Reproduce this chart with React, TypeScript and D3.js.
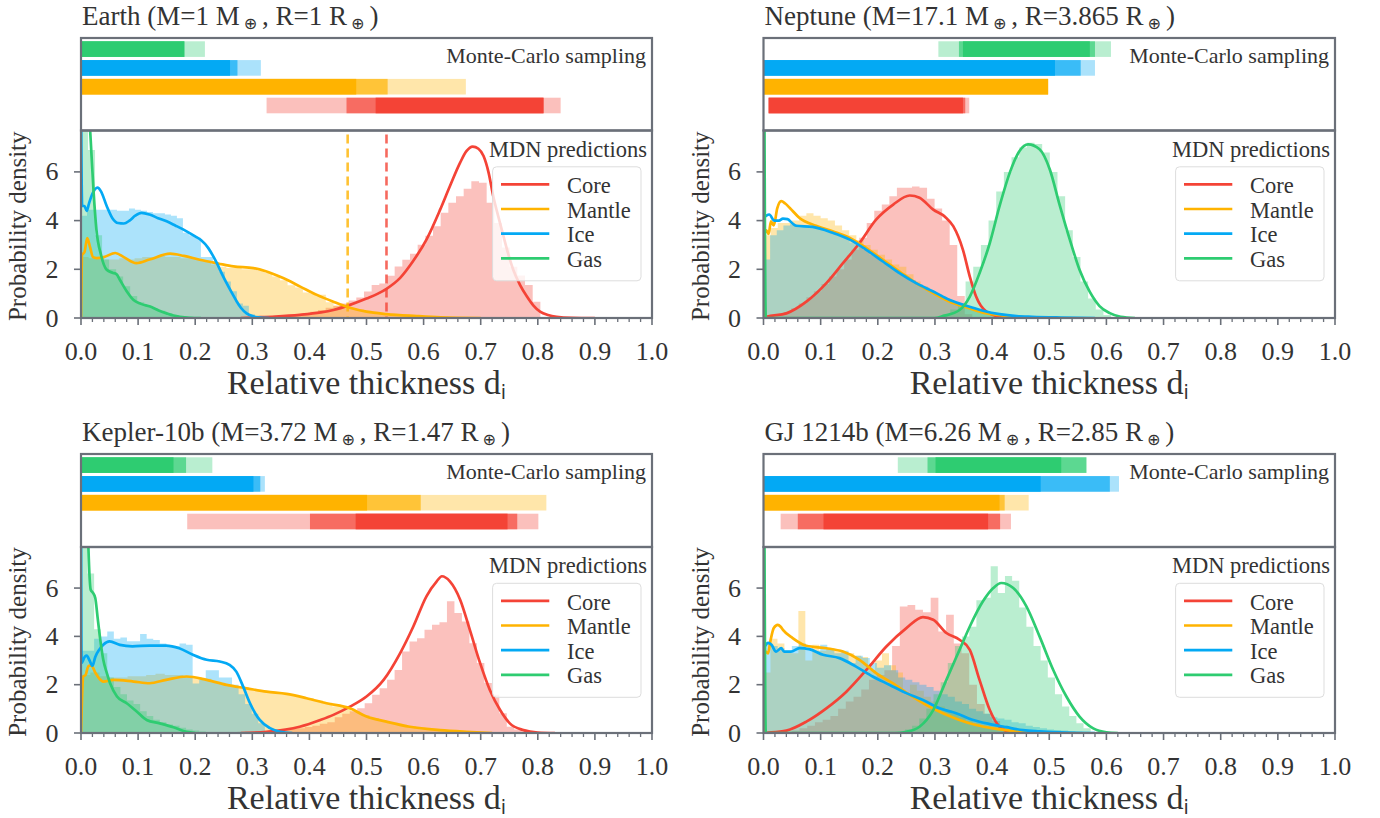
import * as d3 from 'd3'

const COMPONENTS = ['Core', 'Mantle', 'Ice', 'Gas']
const COLORS = ['#f44336', '#ffb300', '#03a9f4', '#2ecc71']
const X_TICKS = [0, 0.1, 0.2, 0.3, 0.4, 0.5, 0.6, 0.7, 0.8, 0.9, 1.0]
const Y_TICKS = [0, 2, 4, 6]
const Y_MAX = 7.7

const planetNames = ['Earth', 'Neptune', 'Kepler-10b', 'GJ 1214b']
const planetMass = ['1', '17.1', '3.72', '6.26']
const planetRadius = ['1', '3.865', '1.47', '2.85']

type Hist = { start: number; width: number; heights: number[] }
type Pt = [number, number]

// Monte-Carlo ranges per component: [lightLo, lightHi, midLo, midHi, darkLo, darkHi]
const earthBars = [
  [0.325, 0.84, 0.465, 0.81, 0.516, 0.81],
  [0, 0.674, 0, 0.537, 0, 0.482],
  [0, 0.315, 0, 0.274, 0, 0.261],
  [0, 0.217, 0, 0.181, 0, 0.181],
]
const neptuneBars = [
  [0.009, 0.36, 0.009, 0.353, 0.009, 0.349],
  [0, 0.498, 0, 0.498, 0, 0.498],
  [0, 0.58, 0, 0.555, 0, 0.51],
  [0.306, 0.608, 0.342, 0.58, 0.349, 0.571],
]
const keplerBars = [
  [0.186, 0.801, 0.401, 0.764, 0.481, 0.747],
  [0, 0.815, 0, 0.595, 0, 0.501],
  [0, 0.322, 0, 0.314, 0, 0.302],
  [0, 0.23, 0, 0.184, 0, 0.162],
]
const gjBars = [
  [0.03, 0.433, 0.06, 0.414, 0.105, 0.393],
  [0, 0.464, 0, 0.422, 0, 0.413],
  [0, 0.622, 0, 0.606, 0, 0.485],
  [0.235, 0.565, 0.287, 0.565, 0.301, 0.521],
]

// ---- Earth ----
const earthCoreHist: Hist = { start: 0.321, width: 0.01343, heights: [0.04, 0.06, 0.09, 0.12, 0.16, 0.2, 0.26, 0.33, 0.42, 0.5, 0.6, 0.72, 0.84, 1.09, 1.36, 1.42, 1.73, 2.12, 2.39, 2.64, 3.01, 3.38, 3.77, 4.32, 4.73, 5.0, 5.31, 5.62, 5.55, 4.73, 3.9, 2.9, 2.1, 1.75, 1.36, 0.67] }
const earthMantleHist: Hist = { start: 0, width: 0.0134, heights: [2.5, 2.45, 2.45, 2.4, 2.4, 2.45, 2.4, 2.45, 2.5, 2.5, 2.55, 2.5, 2.5, 2.45, 2.45, 2.4, 2.35, 2.2, 2.1, 2.05, 2.05, 2.0, 2.0, 1.95, 1.85, 1.7, 1.55, 1.35, 1.25, 1.05, 1.0, 0.95, 0.65, 0.5, 0.45, 0.4, 0.35, 0.3, 0.25, 0.2, 0.17, 0.14, 0.11, 0.09, 0.07, 0.05, 0.04, 0.03, 0.02, 0.01] }
const earthIceHist: Hist = { start: 0, width: 0.0105, heights: [4.2, 4.45, 4.45, 4.45, 4.45, 4.45, 4.4, 4.4, 4.5, 4.45, 4.4, 4.35, 4.3, 4.3, 4.25, 4.2, 4.1, 3.5, 3.4, 3.3, 2.5, 2.5, 2.3, 1.9, 1.5, 1.1, 0.6, 0.5, 0.15, 0.05] }
const earthGasHist: Hist = { start: 0, width: 0.0123, heights: [9, 6.9, 3.4, 2.4, 2.0, 1.7, 1.3, 0.9, 0.65, 0.5, 0.4, 0.3, 0.2, 0.12, 0.08, 0.05, 0.03, 0.02] }

const earthCoreCurve: Pt[] = [[0.28, 0], [0.3, 0.02], [0.34, 0.06], [0.383, 0.13], [0.42, 0.23], [0.442, 0.33], [0.471, 0.54], [0.5, 0.8], [0.52, 1.0], [0.535, 1.2], [0.559, 1.65], [0.582, 2.35], [0.605, 3.22], [0.629, 4.45], [0.646, 5.41], [0.664, 6.38], [0.675, 6.85], [0.686, 7.04], [0.696, 6.95], [0.705, 6.65], [0.714, 5.95], [0.722, 5.0], [0.731, 4.15], [0.74, 3.35], [0.748, 2.65], [0.757, 1.98], [0.769, 1.35], [0.781, 0.88], [0.792, 0.52], [0.804, 0.26], [0.818, 0.12], [0.833, 0.05], [0.86, 0.01], [0.9, 0]]
const earthMantleCurve: Pt[] = [[0, 0], [0.002, 2.6], [0.006, 2.7], [0.011, 3.28], [0.016, 2.9], [0.021, 2.5], [0.027, 2.46], [0.04, 2.5], [0.06, 2.67], [0.075, 2.5], [0.097, 2.25], [0.12, 2.4], [0.156, 2.64], [0.18, 2.55], [0.208, 2.39], [0.24, 2.24], [0.267, 2.12], [0.302, 2.05], [0.325, 1.91], [0.354, 1.64], [0.384, 1.29], [0.413, 0.95], [0.442, 0.67], [0.471, 0.42], [0.5, 0.26], [0.535, 0.16], [0.588, 0.08], [0.63, 0.03], [0.7, 0]]
const earthIceCurve: Pt[] = [[0, 9], [0.002, 4.6], [0.006, 4.6], [0.01, 4.4], [0.014, 4.7], [0.02, 5.1], [0.029, 5.35], [0.035, 5.2], [0.045, 4.6], [0.055, 4.1], [0.065, 3.9], [0.075, 3.88], [0.085, 4.0], [0.095, 4.2], [0.106, 4.32], [0.12, 4.25], [0.135, 4.1], [0.15, 3.97], [0.165, 3.8], [0.185, 3.56], [0.2, 3.35], [0.21, 3.2], [0.223, 2.87], [0.23, 2.6], [0.238, 2.25], [0.247, 1.8], [0.255, 1.43], [0.265, 1.0], [0.273, 0.67], [0.28, 0.42], [0.29, 0.19], [0.3, 0.08], [0.31, 0.03], [0.33, 0]]
const earthGasCurve: Pt[] = [[0, 16], [0.008, 12], [0.013, 9], [0.017, 7.3], [0.022, 5.2], [0.027, 3.63], [0.035, 2.6], [0.045, 1.98], [0.055, 1.86], [0.062, 1.8], [0.068, 1.57], [0.08, 1.1], [0.092, 0.74], [0.105, 0.58], [0.121, 0.47], [0.135, 0.32], [0.15, 0.19], [0.162, 0.1], [0.173, 0.05], [0.19, 0.01], [0.21, 0]]
const earthDashed = [[1, 0.467], [0, 0.535]]

// ---- Neptune ----
const neptuneCoreHist: Hist = { start: 0.009, width: 0.0132, heights: [0.05, 0.12, 0.25, 0.4, 0.6, 0.85, 1.1, 1.4, 1.7, 2.0, 2.4, 2.8, 3.3, 3.9, 4.4, 4.66, 5.0, 5.35, 5.35, 5.4, 5.35, 4.9, 4.5, 4.0, 3.0, 0.9, 0.15] }
const neptuneMantleHist: Hist = { start: 0, width: 0.0125, heights: [3.4, 3.7, 3.9, 3.9, 4.0, 4.2, 4.3, 4.2, 4.1, 4.0, 3.8, 3.6, 3.4, 3.2, 3.0, 2.8, 2.6, 2.4, 2.2, 2.1, 1.8, 1.5, 1.3, 1.1, 0.95, 0.8, 0.65, 0.55, 0.45, 0.35, 0.28, 0.22, 0.17, 0.13, 0.1, 0.08, 0.06, 0.04, 0.03, 0.02] }
const neptuneIceHist: Hist = { start: 0, width: 0.0116, heights: [2.4, 3.4, 3.6, 3.8, 3.85, 3.8, 3.75, 3.75, 3.7, 3.6, 3.5, 3.4, 3.3, 3.1, 3.0, 2.8, 2.6, 2.45, 2.25, 2.05, 1.85, 1.7, 1.55, 1.4, 1.25, 1.1, 0.95, 0.82, 0.7, 0.6, 0.5, 0.42, 0.35, 0.29, 0.23, 0.18, 0.14, 0.11, 0.09, 0.07, 0.05, 0.04, 0.03, 0.025, 0.02, 0.015, 0.01, 0.01, 0.005, 0.005] }
const neptuneGasHist: Hist = { start: 0.3, width: 0.0134, heights: [0.05, 0.15, 0.35, 0.6, 1.5, 2.1, 3.0, 4.0, 5.2, 6.0, 6.6, 7.0, 7.2, 7.15, 6.8, 6.0, 5.0, 3.6, 2.5, 1.5, 0.8, 0.35, 0.12] }

const neptuneCoreCurve: Pt[] = [[0, 0], [0.005, 0.05], [0.04, 0.19], [0.075, 0.67], [0.11, 1.43], [0.139, 2.25], [0.168, 3.08], [0.197, 4.04], [0.227, 4.66], [0.256, 5.03], [0.273, 4.94], [0.297, 4.45], [0.318, 4.15], [0.332, 3.77], [0.349, 2.8], [0.361, 1.7], [0.372, 0.88], [0.39, 0.26], [0.413, 0.06], [0.44, 0]]
const neptuneMantleCurve: Pt[] = [[0, 0], [0.001, 3.4], [0.005, 3.6], [0.009, 3.45], [0.013, 3.97], [0.018, 3.8], [0.024, 4.5], [0.031, 4.8], [0.038, 4.7], [0.046, 4.52], [0.063, 4.11], [0.092, 3.79], [0.121, 3.56], [0.151, 3.29], [0.18, 2.87], [0.209, 2.39], [0.238, 1.91], [0.267, 1.43], [0.297, 1.02], [0.326, 0.67], [0.355, 0.44], [0.384, 0.22], [0.413, 0.12], [0.44, 0.05], [0.5, 0]]
const neptuneIceCurve: Pt[] = [[0, 4.1], [0.005, 4.2], [0.01, 4.25], [0.019, 4.0], [0.027, 4.0], [0.034, 4.08], [0.042, 4.06], [0.05, 3.9], [0.057, 3.79], [0.086, 3.74], [0.121, 3.5], [0.151, 3.22], [0.18, 2.8], [0.209, 2.32], [0.238, 1.84], [0.267, 1.43], [0.297, 1.09], [0.326, 0.74], [0.355, 0.5], [0.384, 0.3], [0.413, 0.16], [0.443, 0.08], [0.47, 0.05], [0.52, 0.02], [0.58, 0]]
const neptuneGasCurve: Pt[] = [[0, 20], [0.004, 0], [0.3, 0], [0.314, 0.08], [0.343, 0.33], [0.361, 0.88], [0.378, 1.84], [0.396, 3.08], [0.413, 4.59], [0.431, 5.97], [0.448, 6.86], [0.463, 7.13], [0.483, 6.93], [0.501, 6.1], [0.518, 4.66], [0.536, 3.22], [0.553, 1.98], [0.571, 1.07], [0.588, 0.49], [0.606, 0.2], [0.625, 0.05], [0.65, 0]]

// ---- Kepler-10b ----
const keplerCoreHist: Hist = { start: 0.1955, width: 0.0131, heights: [0.01, 0.02, 0.02, 0.03, 0.03, 0.04, 0.05, 0.06, 0.07, 0.08, 0.1, 0.12, 0.14, 0.17, 0.2, 0.25, 0.3, 0.38, 0.45, 0.65, 0.8, 0.9, 1.02, 1.23, 1.58, 1.85, 2.2, 2.61, 3.37, 3.79, 3.92, 4.27, 4.48, 4.58, 5.45, 4.97, 4.62, 3.72, 2.9, 2.07, 1.58, 0.82, 0.26, 0.15, 0.06, 0.03] }
const keplerMantleHist: Hist = { start: 0, width: 0.0163, heights: [2.4, 2.5, 2.35, 2.3, 2.3, 2.35, 2.35, 2.4, 2.45, 2.4, 2.4, 2.35, 2.3, 2.25, 2.1, 2.0, 1.92, 1.9, 1.8, 1.75, 1.7, 1.65, 1.6, 1.5, 1.45, 1.35, 1.25, 1.1, 1.05, 0.9, 0.75, 0.62, 0.5, 0.42, 0.35, 0.28, 0.22, 0.17, 0.13, 0.1, 0.08, 0.06, 0.05, 0.04, 0.03, 0.025, 0.02, 0.015, 0.01, 0.01] }
const keplerIceHist: Hist = { start: 0, width: 0.0115, heights: [3.4, 3.4, 3.9, 4.0, 4.2, 3.9, 3.95, 3.8, 3.8, 4.1, 3.9, 3.85, 3.7, 3.6, 3.6, 3.7, 3.65, 2.05, 2.2, 2.6, 2.6, 2.3, 2.3, 2.0, 1.6, 1.2, 0.8, 0.4] }
const keplerGasHist: Hist = { start: 0, width: 0.0115, heights: [9, 6.6, 4.3, 3.3, 2.3, 1.9, 1.6, 1.35, 1.2, 0.9, 0.7, 0.55, 0.45, 0.35, 0.3, 0.22, 0.15, 0.1, 0.06, 0.03] }

const keplerCoreCurve: Pt[] = [[0.28, 0], [0.325, 0.05], [0.383, 0.26], [0.419, 0.54], [0.442, 0.75], [0.471, 1.09], [0.5, 1.51], [0.53, 2.2], [0.559, 3.31], [0.582, 4.41], [0.605, 5.66], [0.623, 6.28], [0.632, 6.49], [0.646, 6.28], [0.664, 5.52], [0.681, 4.27], [0.699, 2.89], [0.716, 1.78], [0.734, 0.95], [0.751, 0.4], [0.775, 0.12], [0.8, 0.02], [0.83, 0]]
const keplerMantleCurve: Pt[] = [[0, 0], [0.002, 1.6], [0.004, 2.34], [0.008, 2.4], [0.013, 2.77], [0.018, 2.8], [0.025, 2.5], [0.032, 2.25], [0.039, 2.13], [0.057, 2.2], [0.092, 2.13], [0.12, 2.06], [0.149, 2.2], [0.185, 2.34], [0.22, 2.2], [0.255, 1.99], [0.29, 1.85], [0.325, 1.71], [0.36, 1.62], [0.395, 1.44], [0.43, 1.23], [0.471, 1.02], [0.5, 0.68], [0.535, 0.47], [0.576, 0.26], [0.629, 0.12], [0.675, 0.05], [0.72, 0]]
const keplerIceCurve: Pt[] = [[0, 9], [0.001, 2.9], [0.007, 3.17], [0.01, 3.2], [0.015, 3.0], [0.02, 2.78], [0.025, 3.15], [0.032, 3.45], [0.039, 3.65], [0.05, 3.79], [0.068, 3.65], [0.09, 3.59], [0.12, 3.62], [0.149, 3.62], [0.172, 3.51], [0.196, 3.24], [0.22, 3.03], [0.243, 2.96], [0.26, 2.82], [0.272, 2.54], [0.284, 1.92], [0.296, 1.23], [0.305, 0.82], [0.313, 0.54], [0.331, 0.2], [0.349, 0.05], [0.37, 0]]
const keplerGasCurve: Pt[] = [[0, 20], [0.008, 13], [0.013, 7.66], [0.017, 5.93], [0.021, 5.8], [0.025, 5.59], [0.029, 4.8], [0.033, 4.0], [0.039, 3.03], [0.045, 2.5], [0.051, 2.06], [0.063, 1.51], [0.08, 1.23], [0.098, 0.88], [0.115, 0.54], [0.138, 0.4], [0.162, 0.24], [0.185, 0.05], [0.2, 0]]

// ---- GJ 1214b ----
const gjCoreHist: Hist = { start: 0.036, width: 0.0135, heights: [0.05, 0.1, 0.2, 0.3, 0.45, 0.55, 0.7, 1.0, 1.3, 1.5, 1.8, 2.2, 2.4, 2.6, 3.6, 5.24, 5.3, 5.1, 5.0, 5.6, 4.2, 4.9, 3.7, 3.3, 2.0, 1.2, 0.8, 0.5, 0.3, 0.1] }
const gjMantleHist: Hist = { start: 0, width: 0.0122, heights: [2.5, 3.9, 3.7, 3.4, 3.3, 5.05, 3.0, 3.65, 3.4, 3.5, 3.4, 3.35, 3.3, 3.2, 3.15, 2.6, 3.0, 3.3, 2.8, 2.5, 1.6, 2.0, 1.75, 1.5, 1.3, 1.1, 0.95, 0.8, 0.65, 0.5, 0.4, 0.3, 0.25, 0.18, 0.13, 0.1, 0.07, 0.04] }
const gjIceHist: Hist = { start: 0, width: 0.0124, heights: [3.75, 3.6, 3.5, 3.4, 3.6, 3.7, 3.5, 3.4, 3.65, 3.5, 3.3, 3.4, 2.9, 3.2, 3.1, 2.9, 2.7, 2.8, 2.6, 2.3, 2.2, 2.1, 2.0, 1.9, 1.75, 1.6, 1.5, 1.3, 1.2, 1.0, 0.9, 0.8, 0.65, 0.6, 0.55, 0.45, 0.4, 0.3, 0.25, 0.2, 0.15, 0.12, 0.1, 0.08, 0.06, 0.05, 0.04, 0.03, 0.02, 0.01] }
const gjGasHist: Hist = { start: 0.235, width: 0.0125, heights: [0.05, 0.15, 0.3, 0.6, 1.0, 1.6, 2.1, 2.9, 3.6, 4.0, 4.4, 5.5, 5.6, 6.9, 5.8, 6.5, 6.3, 5.2, 4.4, 3.6, 3.0, 2.3, 1.6, 1.1, 0.7, 0.4, 0.2] }

const gjCoreCurve: Pt[] = [[0, 0], [0.005, 0.01], [0.04, 0.1], [0.075, 0.47], [0.11, 1.02], [0.145, 1.71], [0.18, 2.61], [0.215, 3.58], [0.25, 4.34], [0.279, 4.8], [0.297, 4.69], [0.32, 4.14], [0.343, 3.86], [0.361, 3.44], [0.378, 2.2], [0.396, 0.95], [0.413, 0.26], [0.431, 0.05], [0.45, 0]]
const gjMantleCurve: Pt[] = [[0, 0], [0.002, 3.4], [0.008, 3.3], [0.012, 3.8], [0.018, 4.35], [0.025, 4.48], [0.03, 4.4], [0.034, 4.27], [0.051, 3.93], [0.075, 3.61], [0.11, 3.51], [0.139, 3.37], [0.168, 3.03], [0.197, 2.48], [0.226, 2.06], [0.256, 1.58], [0.285, 1.16], [0.314, 0.82], [0.343, 0.54], [0.372, 0.33], [0.402, 0.19], [0.431, 0.1], [0.47, 0.02], [0.5, 0]]
const gjIceCurve: Pt[] = [[0, 3.5], [0.002, 3.58], [0.008, 3.73], [0.014, 3.65], [0.022, 3.37], [0.031, 3.51], [0.036, 3.37], [0.048, 3.37], [0.063, 3.51], [0.08, 3.47], [0.104, 3.24], [0.133, 3.1], [0.162, 2.75], [0.191, 2.34], [0.221, 1.99], [0.25, 1.65], [0.279, 1.37], [0.308, 1.02], [0.337, 0.82], [0.367, 0.54], [0.396, 0.37], [0.425, 0.24], [0.454, 0.12], [0.483, 0.07], [0.53, 0.02], [0.58, 0]]
const gjGasCurve: Pt[] = [[0, 20], [0.004, 0], [0.23, 0], [0.25, 0.05], [0.273, 0.26], [0.297, 0.95], [0.32, 2.2], [0.343, 3.44], [0.361, 4.41], [0.384, 5.45], [0.402, 6.0], [0.416, 6.21], [0.437, 6.0], [0.46, 5.24], [0.483, 4.0], [0.507, 2.61], [0.53, 1.51], [0.553, 0.68], [0.577, 0.19], [0.6, 0.03], [0.62, 0]]

const HISTS = [
  [earthCoreHist, earthMantleHist, earthIceHist, earthGasHist],
  [neptuneCoreHist, neptuneMantleHist, neptuneIceHist, neptuneGasHist],
  [keplerCoreHist, keplerMantleHist, keplerIceHist, keplerGasHist],
  [gjCoreHist, gjMantleHist, gjIceHist, gjGasHist],
]
const CURVES = [
  [earthCoreCurve, earthMantleCurve, earthIceCurve, earthGasCurve],
  [neptuneCoreCurve, neptuneMantleCurve, neptuneIceCurve, neptuneGasCurve],
  [keplerCoreCurve, keplerMantleCurve, keplerIceCurve, keplerGasCurve],
  [gjCoreCurve, gjMantleCurve, gjIceCurve, gjGasCurve],
]
const BARS = [earthBars, neptuneBars, keplerBars, gjBars]
const DASHED = [earthDashed, [], [], []]

// layout of the four panels (pixels)
const LAYOUT = [
  { x0: 81, x1: 652, boxTop: 38, divider: 130.5, bottom: 318 },
  { x0: 763.5, x1: 1335, boxTop: 38, divider: 130.5, bottom: 318 },
  { x0: 81, x1: 652, boxTop: 454, divider: 547, bottom: 733 },
  { x0: 763.5, x1: 1335, boxTop: 454, divider: 547, bottom: 733 },
]

const TEXT = '#333333'
const SPINE = '#6b7079'
const SERIF = "'Liberation Serif', 'Times New Roman', serif"
const SYMBOL = "'DejaVu Sans', sans-serif"

function Panel({ i }: { i: number }) {
  const L = LAYOUT[i]
  const x = d3.scaleLinear().domain([0, 1]).range([L.x0, L.x1])
  const y = d3.scaleLinear().domain([0, Y_MAX]).range([L.bottom, L.divider])
  const rows = d3.scaleBand<string>()
    .domain(['Gas', 'Ice', 'Mantle', 'Core'])
    .range([L.boxTop + 1.7, L.boxTop + 1.7 + 4 * 18.8])
    .paddingInner(0.17)
    .paddingOuter(0.085)

  const area = d3.area<Pt>()
    .x(d => x(d[0]))
    .y0(y(0))
    .y1(d => y(d[1]))
    .curve(d3.curveStepAfter)
  const histPath = (h: Hist) => {
    const pts: Pt[] = h.heights.map((v, k) => [h.start + k * h.width, v])
    pts.push([h.start + h.heights.length * h.width, h.heights[h.heights.length - 1]])
    return area(pts) || ''
  }
  const line = d3.line<Pt>()
    .x(d => x(d[0]))
    .y(d => y(d[1]))
    .curve(d3.curveMonotoneX)

  const minor = d3.range(0, 1.0001, 0.02).filter(v => Math.abs(v * 10 - Math.round(v * 10)) > 1e-6)
  const clipId = `plot-clip-${i}`
  const legendW = 148.4
  const legendX = L.x1 - 11 - legendW
  const legendY = L.divider + 36.3

  return (
    <g>
      <defs>
        <clipPath id={clipId}>
          <rect x={L.x0} y={L.divider} width={L.x1 - L.x0} height={L.bottom - L.divider} />
        </clipPath>
      </defs>

      {/* Monte-Carlo ranges */}
      {BARS[i].map((b, c) => {
        const ry = rows(COMPONENTS[c]) as number
        const bh = rows.bandwidth()
        return (
          <g key={c} fill={COLORS[c]}>
            <rect x={x(b[0])} y={ry} width={x(b[1]) - x(b[0])} height={bh} opacity={0.335} />
            <rect x={x(b[2])} y={ry} width={x(b[3]) - x(b[2])} height={bh} opacity={0.67} />
            <rect x={x(b[4])} y={ry} width={x(b[5]) - x(b[4])} height={bh} />
          </g>
        )
      })}

      {/* histograms and densities */}
      <g clipPath={`url(#${clipId})`}>
        {HISTS[i].map((h, c) => (
          <path key={c} d={histPath(h)} fill={COLORS[c]} fillOpacity={0.33} />
        ))}
        {CURVES[i].map((pts, c) => (
          <path key={c} d={line(pts) || ''} fill="none" stroke={COLORS[c]} strokeWidth={2.7} />
        ))}
        {DASHED[i].map(([c, v], k) => (
          <line key={k} x1={x(v)} x2={x(v)} y1={L.divider + 4} y2={L.bottom}
            stroke={COLORS[c]} strokeOpacity={0.8} strokeWidth={2.6} strokeDasharray="9,5" />
        ))}
      </g>

      {/* legend */}
      <rect x={legendX} y={legendY} width={legendW} height={114} rx={4}
        fill="#ffffff" fillOpacity={0.8} stroke="#dddddd" strokeWidth={1} />
      {COMPONENTS.map((name, c) => (
        <g key={name}>
          <line x1={legendX + 8.4} x2={legendX + 56.7} y1={legendY + 17.5 + c * 24.7} y2={legendY + 17.5 + c * 24.7}
            stroke={COLORS[c]} strokeWidth={2.7} />
          <text x={legendX + 74.4} y={legendY + 26.5 + c * 24.4} fontSize={22.5} fill={TEXT}>{name}</text>
        </g>
      ))}

      <text x={L.x1 - 6} y={L.boxTop + 25} textAnchor="end" fontSize={22} fill={TEXT}>Monte-Carlo sampling</text>
      <text x={L.x1 - 5} y={L.divider + 26} textAnchor="end" fontSize={22.5} fill={TEXT}>MDN predictions</text>

      {/* spines */}
      <rect x={L.x0} y={L.boxTop} width={L.x1 - L.x0} height={L.divider - L.boxTop} fill="none" stroke={SPINE} strokeWidth={2.2} />
      <rect x={L.x0} y={L.divider} width={L.x1 - L.x0} height={L.bottom - L.divider} fill="none" stroke={SPINE} strokeWidth={2.2} />

      {/* x axis */}
      {X_TICKS.map(t => (
        <g key={t}>
          <line x1={x(t)} x2={x(t)} y1={L.bottom} y2={L.bottom + 7} stroke={SPINE} strokeWidth={1.6} />
          <text x={x(t)} y={L.bottom + 42} textAnchor="middle" fontSize={26} fill={TEXT}>{t.toFixed(1)}</text>
        </g>
      ))}
      {minor.map(t => (
        <line key={t} x1={x(t)} x2={x(t)} y1={L.bottom} y2={L.bottom + 4} stroke={SPINE} strokeWidth={1.3} />
      ))}
      <text x={(L.x0 + L.x1) / 2} y={L.bottom + 76} textAnchor="middle" fontSize={34} fill={TEXT}>
        Relative thickness d<tspan fontSize={19} dy={5} fontFamily={SYMBOL}>i</tspan>
      </text>

      {/* y axis */}
      {Y_TICKS.map(t => (
        <g key={t}>
          <line x1={L.x0 - 7} x2={L.x0} y1={y(t)} y2={y(t)} stroke={SPINE} strokeWidth={1.6} />
          <text x={L.x0 - 22.5} y={y(t) + 8.5} textAnchor="end" fontSize={26} fill={TEXT}>{t}</text>
        </g>
      ))}
      <text transform={`translate(${L.x0 - 55},${(L.divider + L.bottom) / 2 + 2}) rotate(-90)`}
        textAnchor="middle" fontSize={25} fill={TEXT}>Probability density</text>

      {/* title */}
      <text x={L.x0 + 1} y={L.boxTop - 13} fontSize={27} fill={TEXT}>
        {`${planetNames[i]} (M=${planetMass[i]} M`}
        <tspan fontFamily={SYMBOL} fontSize={16} dx={4} dy={4}>⊕</tspan>
        <tspan dx={5} dy={-4}>{`, R=${planetRadius[i]} R`}</tspan>
        <tspan fontFamily={SYMBOL} fontSize={16} dx={4} dy={4}>⊕</tspan>
        <tspan dx={5} dy={-4}>)</tspan>
      </text>
    </g>
  )
}

export default function App() {
  return (
    <svg width={1380} height={818} fontFamily={SERIF}
      style={{ position: 'absolute', left: 0, top: 0, background: '#ffffff' }}>
      {[0, 1, 2, 3].map(i => <Panel key={i} i={i} />)}
    </svg>
  )
}
